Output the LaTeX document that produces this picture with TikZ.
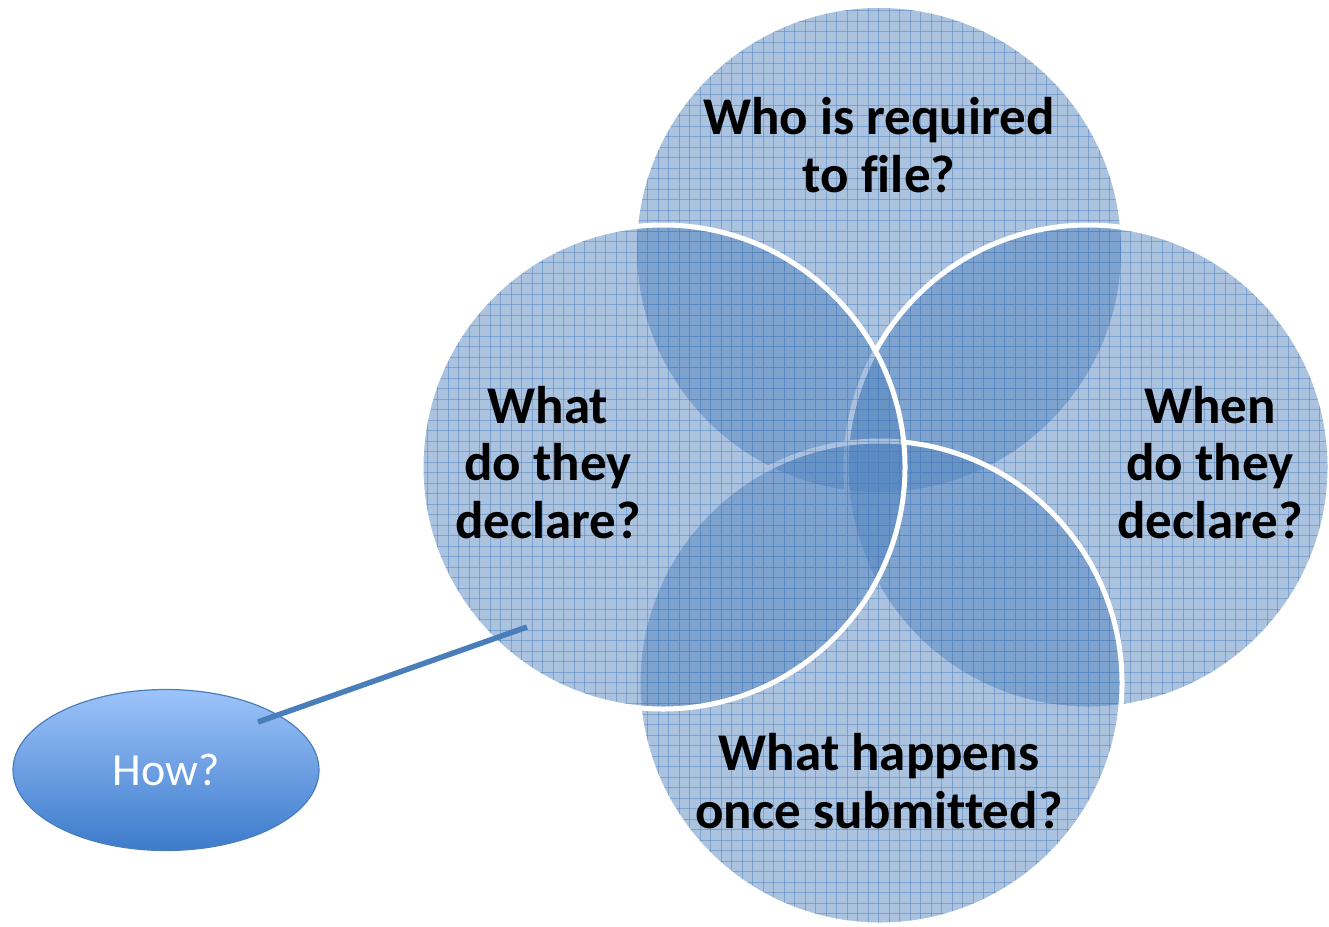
\documentclass[tikz,border=0pt]{standalone}
\usepackage{fontspec}
\setmainfont{Carlito}[RawFeature=-liga]
\usetikzlibrary{shapes.geometric}
\definecolor{accent}{HTML}{4F81BD}
\definecolor{lineblue}{HTML}{4A7EBB}
\definecolor{howtop}{HTML}{9DC3FA}
\definecolor{howbot}{HTML}{3C7BCB}
\begin{document}
\begin{tikzpicture}[x=1pt,y=-1pt,
  circfill/.style={fill=accent, fill opacity=0.48},
  gridln/.style={draw=accent, draw opacity=0.5, line width=1pt},
  rim/.style={draw=white, line width=5pt},
  qlabel/.style={font=\fontsize{53}{57.5}\selectfont\bfseries, align=center, text=black, anchor=base, inner sep=0pt},
  connector/.style={draw=lineblue, line width=5.5pt},
]
\useasboundingbox (0,0) rectangle (1329,926);
\coordinate (ctop) at (879,250);
\coordinate (cright) at (1088,467);
\coordinate (cbottom) at (880,683);
\coordinate (cleft) at (663,467);
% top circle (no rim)
\begin{scope}
\fill[circfill] (ctop) circle[radius=242];
\clip (ctop) circle[radius=242];
\foreach \k in {0,...,126} \draw[gridln] ({7+10.5*\k},0) -- ({7+10.5*\k},926);
\foreach \k in {0,...,88} \draw[gridln] (0,{10.5*\k}) -- (1329,{10.5*\k});
\end{scope}
% right circle
\begin{scope}
\fill[circfill] (cright) circle[radius=242];
\clip (cright) circle[radius=242];
\foreach \k in {0,...,126} \draw[gridln] ({7+10.5*\k},0) -- ({7+10.5*\k},926);
\foreach \k in {0,...,88} \draw[gridln] (0,{10.5*\k}) -- (1329,{10.5*\k});
\end{scope}
\draw[rim] (cright) circle[radius=242];
% bottom circle
\begin{scope}
\fill[circfill] (cbottom) circle[radius=242];
\clip (cbottom) circle[radius=242];
\foreach \k in {0,...,126} \draw[gridln] ({7+10.5*\k},0) -- ({7+10.5*\k},926);
\foreach \k in {0,...,88} \draw[gridln] (0,{10.5*\k}) -- (1329,{10.5*\k});
\end{scope}
\draw[rim] (cbottom) circle[radius=242];
% left circle
\begin{scope}
\fill[circfill] (cleft) circle[radius=242];
\clip (cleft) circle[radius=242];
\foreach \k in {0,...,126} \draw[gridln] ({7+10.5*\k},0) -- ({7+10.5*\k},926);
\foreach \k in {0,...,88} \draw[gridln] (0,{10.5*\k}) -- (1329,{10.5*\k});
\end{scope}
\draw[rim] (cleft) circle[radius=242];
% labels (base anchor = baseline of last line)
\node[qlabel] (who) at (879,192) {Who is required\\to file?};
\node[qlabel] (what) at (548,538) {What\\do they\\declare?};
\node[qlabel] (when) at (1210,538) {When\\do they\\declare?};
\node[qlabel] (happens) at (879,828) {What happens\\once submitted?};
% how ellipse
\node[ellipse, draw=lineblue, line width=1.2pt, top color=howtop, bottom color=howbot,
      minimum width=306pt, minimum height=161pt, text=white,
      font=\fontsize{46}{54}\selectfont] (how) at (166,770) {How?};
\coordinate (howend) at (258,722);
\coordinate (leftend) at (527,627);
\draw[connector] (howend) -- (leftend);
\end{tikzpicture}
\end{document}
